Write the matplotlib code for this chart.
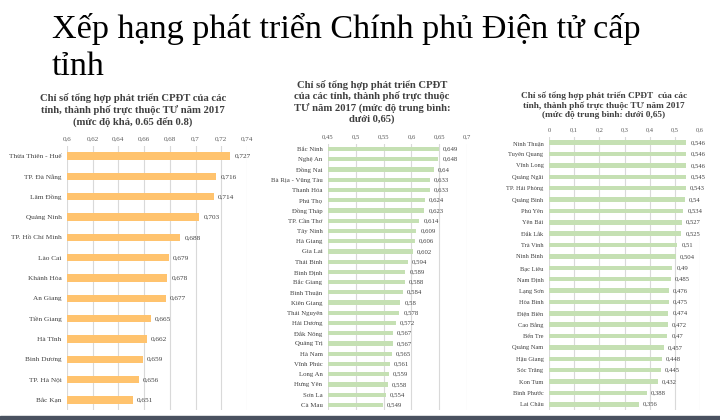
import matplotlib
matplotlib.use("Agg")
import matplotlib.pyplot as plt
from matplotlib.patches import Rectangle

plt.rcParams['font.family'] = ['Liberation Serif', 'DejaVu Serif']

# ---------------- data ----------------
main_title_1 = "Xếp hạng phát triển Chính phủ Điện tử cấp"
main_title_2 = "tỉnh"

p1_title = "Chỉ số tổng hợp phát triển CPĐT của các\ntỉnh, thành phố trực thuộc TƯ năm 2017\n(mức độ khá, 0.65 đến 0.8)"
p1_names = ["Thừa Thiên - Huế", "TP. Đà Nẵng", "Lâm Đồng", "Quảng Ninh", "TP. Hồ Chí Minh",
            "Lào Cai", "Khánh Hòa", "An Giang", "Tiền Giang", "Hà Tĩnh", "Bình Dương",
            "TP. Hà Nội", "Bắc Kạn"]
p1_values = [0.727, 0.716, 0.714, 0.703, 0.688, 0.679, 0.678, 0.677, 0.665, 0.662, 0.659, 0.656, 0.651]
p1_ticks = [0.6, 0.62, 0.64, 0.66, 0.68, 0.7, 0.72, 0.74]

p2_title = "Chỉ số tổng hợp phát triển CPĐT\ncủa các tỉnh, thành phố trực thuộc\nTƯ năm 2017 (mức độ trung bình:\ndưới 0,65)"
p2_names = ["Bắc Ninh", "Nghệ An", "Đồng Nai", "Bà Rịa - Vũng Tàu", "Thanh Hóa", "Phú Thọ",
            "Đồng Tháp", "TP. Cần Thơ", "Tây Ninh", "Hà Giang", "Gia Lai", "Thái Bình",
            "Bình Định", "Bắc Giang", "Bình Thuận", "Kiên Giang", "Thái Nguyên", "Hải Dương",
            "Đắk Nông", "Quảng Trị", "Hà Nam", "Vĩnh Phúc", "Long An", "Hưng Yên", "Sơn La", "Cà Mau"]
p2_values = [0.649, 0.648, 0.64, 0.633, 0.633, 0.624, 0.623, 0.614, 0.609, 0.606, 0.602, 0.594,
             0.589, 0.588, 0.584, 0.58, 0.578, 0.572, 0.567, 0.567, 0.565, 0.561, 0.559, 0.558,
             0.554, 0.549]
p2_ticks = [0.45, 0.5, 0.55, 0.6, 0.65, 0.7]

p3_title = "Chỉ số tổng hợp phát triển CPĐT  của các\ntỉnh, thành phố trực thuộc TƯ năm 2017\n(mức độ trung bình: dưới 0,65)"
p3_names = ["Ninh Thuận", "Tuyên Quang", "Vĩnh Long", "Quảng Ngãi", "TP. Hải Phòng", "Quảng Bình",
            "Phú Yên", "Yên Bái", "Đắk Lắk", "Trà Vinh", "Ninh Bình", "Bạc Liêu", "Nam Định",
            "Lạng Sơn", "Hòa Bình", "Điện Biên", "Cao Bằng", "Bến Tre", "Quảng Nam", "Hậu Giang",
            "Sóc Trăng", "Kon Tum", "Bình Phước", "Lai Châu"]
p3_values = [0.546, 0.546, 0.546, 0.545, 0.543, 0.54, 0.534, 0.527, 0.525, 0.51, 0.504, 0.49,
             0.485, 0.476, 0.475, 0.474, 0.472, 0.47, 0.457, 0.448, 0.445, 0.432, 0.388, 0.356]
p3_ticks = [0, 0.1, 0.2, 0.3, 0.4, 0.5, 0.6]

ORANGE = "#FFC36E"
GREEN = "#C5E0B3"
W, H = 720, 420


def fmt(v):
    return f"{v:g}".replace(".", ",")


fig = plt.figure(figsize=(7.2, 4.2), dpi=100)
fig.patch.set_facecolor("white")


def px_axes(x0, x1, ytop, ybot):
    return fig.add_axes([x0 / W, 1 - ybot / H, (x1 - x0) / W, (ybot - ytop) / H])


def panel(ax, names, values, ticks, color, bar_h, name_fs, val_fs, tick_fs):
    y = list(range(len(names)))
    bars = ax.barh(y, values, height=bar_h, color=color, zorder=2)
    ax.set_ylim(len(names) - 0.5, -0.5)
    ax.set_xlim(ticks[0], ticks[-1])
    ax.set_xticks(ticks)
    ax.set_xticklabels([fmt(t) for t in ticks], fontsize=tick_fs, color="#595959")
    ax.xaxis.tick_top()
    ax.tick_params(axis="x", length=0, pad=3)
    ax.set_yticks(y)
    ax.set_yticklabels(names, fontsize=name_fs, color="#404040")
    ax.tick_params(axis="y", length=0, pad=4)
    ax.grid(axis="x", color="#D9D9D9", linewidth=0.8, zorder=0)
    for s in ax.spines.values():
        s.set_visible(False)
    ax.bar_label(bars, labels=[fmt(v) for v in values], padding=3,
                 fontsize=val_fs, color="#404040")


ax1 = px_axes(67, 247, 146, 410)
panel(ax1, p1_names, p1_values, p1_ticks, ORANGE, 0.36, 5.2, 5.2, 5.0)
ax2 = px_axes(328, 467, 144, 410)
panel(ax2, p2_names, p2_values, p2_ticks, GREEN, 0.42, 4.9, 4.9, 4.8)
ax3 = px_axes(549, 700, 137, 410)
panel(ax3, p3_names, p3_values, p3_ticks, GREEN, 0.4, 4.6, 4.8, 4.6)

fig.text(133 / W, 1 - 110 / H, p1_title, ha="center", va="center", fontsize=7.7,
         fontweight="bold", color="#404040", linespacing=1.2)
fig.text(372 / W, 1 - 102 / H, p2_title, ha="center", va="center", fontsize=7.7,
         fontweight="bold", color="#404040", linespacing=1.18)
fig.text(604 / W, 1 - 105 / H, p3_title, ha="center", va="center", fontsize=6.7,
         fontweight="bold", color="#404040", linespacing=1.22)

fig.text(52 / W, 1 - 38 / H, main_title_1, ha="left", va="baseline", fontsize=24.6,
         color="black")
fig.text(52 / W, 1 - 75 / H, main_title_2, ha="left", va="baseline", fontsize=24.6,
         color="black")

fig.patches.append(Rectangle((0, 0), 1, 4 / H, transform=fig.transFigure,
                             color="#4A5260", zorder=10))

fig.savefig("out.png", dpi=100)
